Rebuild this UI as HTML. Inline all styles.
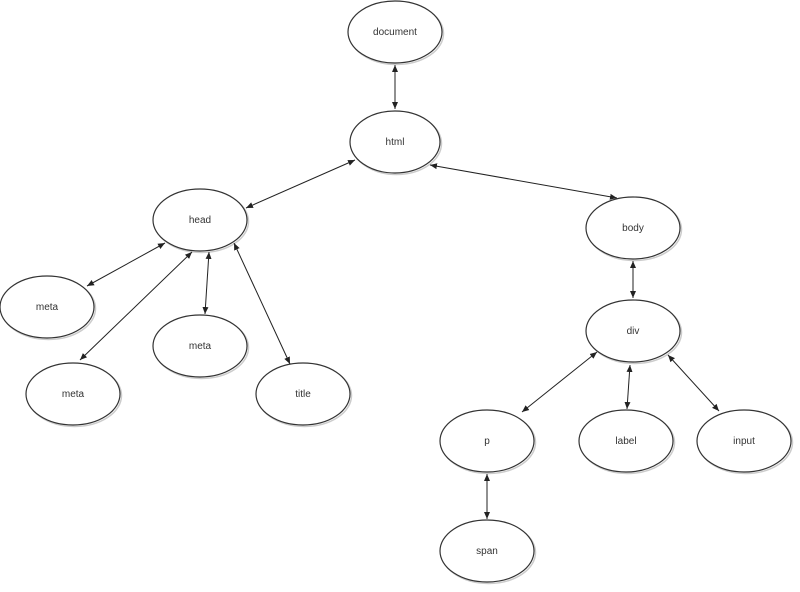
<!DOCTYPE html>
<html><head><style>body{margin:0;background:#fff}svg{display:block}</style></head><body>
<svg width="800" height="592" viewBox="0 0 800 592" xmlns="http://www.w3.org/2000/svg">
<defs><marker id="a" markerWidth="8" markerHeight="8" refX="7" refY="4" orient="auto-start-reverse" markerUnits="userSpaceOnUse"><path d="M0,1 L7,4 L0,7 Z" fill="#222"/></marker></defs>
<g fill="none" stroke="#ccc" stroke-width="1.5" transform="translate(1.5,1.5)">
<ellipse cx="395" cy="32" rx="47" ry="31"/>
<ellipse cx="395" cy="142" rx="45" ry="31"/>
<ellipse cx="200" cy="220" rx="47" ry="31"/>
<ellipse cx="633" cy="228" rx="47" ry="31"/>
<ellipse cx="47" cy="307" rx="47" ry="31"/>
<ellipse cx="73" cy="394" rx="47" ry="31"/>
<ellipse cx="200" cy="346" rx="47" ry="31"/>
<ellipse cx="303" cy="394" rx="47" ry="31"/>
<ellipse cx="633" cy="331" rx="47" ry="31"/>
<ellipse cx="487" cy="441" rx="47" ry="31"/>
<ellipse cx="626" cy="441" rx="47" ry="31"/>
<ellipse cx="744" cy="441" rx="47" ry="31"/>
<ellipse cx="487" cy="551" rx="47" ry="31"/>
</g>
<g fill="#fff" stroke="#333" stroke-width="1.2">
<ellipse cx="395" cy="32" rx="47" ry="31"/>
<ellipse cx="395" cy="142" rx="45" ry="31"/>
<ellipse cx="200" cy="220" rx="47" ry="31"/>
<ellipse cx="633" cy="228" rx="47" ry="31"/>
<ellipse cx="47" cy="307" rx="47" ry="31"/>
<ellipse cx="73" cy="394" rx="47" ry="31"/>
<ellipse cx="200" cy="346" rx="47" ry="31"/>
<ellipse cx="303" cy="394" rx="47" ry="31"/>
<ellipse cx="633" cy="331" rx="47" ry="31"/>
<ellipse cx="487" cy="441" rx="47" ry="31"/>
<ellipse cx="626" cy="441" rx="47" ry="31"/>
<ellipse cx="744" cy="441" rx="47" ry="31"/>
<ellipse cx="487" cy="551" rx="47" ry="31"/>
</g>
<g stroke="#222" stroke-width="1" marker-start="url(#a)" marker-end="url(#a)">
<line x1="395" y1="65" x2="395" y2="109"/>
<line x1="355" y1="160" x2="246" y2="208"/>
<line x1="430" y1="165" x2="617" y2="198"/>
<line x1="165" y1="243" x2="87" y2="286"/>
<line x1="192" y1="252" x2="80" y2="360"/>
<line x1="209" y1="252" x2="205" y2="314"/>
<line x1="234" y1="243" x2="290" y2="364"/>
<line x1="633" y1="261" x2="633" y2="298"/>
<line x1="597" y1="352" x2="522" y2="412"/>
<line x1="630" y1="365" x2="627" y2="409"/>
<line x1="668" y1="355" x2="719" y2="411"/>
<line x1="487" y1="474" x2="487" y2="519"/>
</g>
<g font-family="Liberation Sans, sans-serif" font-size="10" fill="#333" text-anchor="middle">
<text x="395" y="35">document</text>
<text x="395" y="145">html</text>
<text x="200" y="223">head</text>
<text x="633" y="231">body</text>
<text x="47" y="310">meta</text>
<text x="73" y="397">meta</text>
<text x="200" y="349">meta</text>
<text x="303" y="397">title</text>
<text x="633" y="334">div</text>
<text x="487" y="444">p</text>
<text x="626" y="444">label</text>
<text x="744" y="444">input</text>
<text x="487" y="554">span</text>
</g>
</svg>
</body></html>
